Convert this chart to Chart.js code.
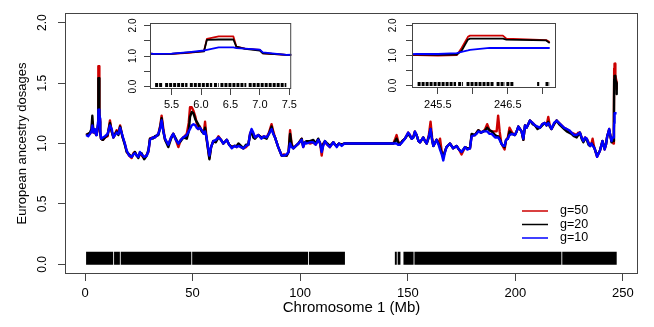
<!DOCTYPE html>
<html>
<head>
<meta charset="utf-8">
<script src="https://cdn.jsdelivr.net/npm/chart.js@4.4.0/dist/chart.umd.min.js"></script>
<style>
  html, body { margin: 0; padding: 0; background: #fff; }
  #wrap { position: relative; width: 654px; height: 327px; }
  #wrap canvas { position: absolute; }
</style>
</head>
<body>
<div id="wrap">
  <canvas id="main" width="654" height="327" style="left:0;top:0"></canvas>
  <canvas id="inset1" width="190" height="102" style="left:110px;top:13px"></canvas>
  <canvas id="inset2" width="182" height="102" style="left:380px;top:13px"></canvas>
</div>
<script>
// chromosome 1 positions (Mb)
const positions = [
  0.5, 1.5, 2.3, 3.0, 3.4, 3.9, 4.6, 5.2, 5.5, 5.8,
  6.05, 6.1, 6.3, 6.55, 6.6, 6.75, 7.0, 7.05, 7.45, 8.3,
  9.3, 10.5, 11.6, 12.4, 13.2, 14.7, 15.5, 16.3, 17.5, 18.5,
  19.4, 20.5, 21.7, 22.5, 23.2, 24.0, 24.8, 25.5, 26.3, 27.5,
  28.7, 29.5, 30.2, 31.5, 32.5, 34.1, 35.0, 35.6, 36.4, 37.2,
  38.7, 40.0, 41.0, 42.2, 43.4, 44.5, 45.7, 47.3, 48.2, 48.8,
  49.6, 50.4, 51.3, 51.9, 52.6, 53.4, 54.3, 55.2, 55.8, 56.5,
  57.8, 58.6, 59.6, 60.8, 62.0, 63.2, 64.3, 65.9, 67.0, 68.2,
  69.5, 70.5, 71.3, 72.5, 73.6, 74.8, 75.9, 76.7, 77.4, 78.2,
  79.0, 80.5, 82.0, 83.2, 84.4, 85.5, 86.7, 87.5, 88.3, 89.8,
  91.4, 92.5, 93.7, 94.6, 95.3, 96.0, 96.8, 98.0, 99.2, 100.7,
  101.4, 102.2, 103.0, 104.5, 106.1, 107.2, 108.4, 109.3, 110.0, 110.7,
  111.5, 112.6, 113.8, 115.4, 116.2, 117.0, 118.0, 119.3, 120.5, 143.3,
  144.2, 144.8, 145.5, 146.3, 147.4, 148.7, 150.2, 151.0, 151.8, 152.6,
  153.3, 154.1, 155.0, 155.7, 157.2, 158.0, 158.8, 159.8, 160.6, 161.3,
  161.9, 163.4, 164.3, 165.0, 165.8, 166.5, 167.2, 168.0, 169.6, 171.1,
  172.7, 173.8, 175.0, 176.6, 177.6, 178.9, 179.7, 181.2, 182.0, 182.8,
  184.0, 185.1, 186.0, 186.9, 188.0, 189.0, 190.6, 191.3, 192.0, 192.7,
  193.5, 194.4, 195.0, 195.7, 196.5, 197.3, 198.5, 199.8, 200.6, 201.4,
  202.1, 202.9, 203.7, 204.5, 205.2, 206.0, 206.8, 208.0, 209.1, 210.3,
  211.4, 212.5, 213.7, 214.5, 215.3, 216.0, 216.8, 218.0, 219.2, 220.3,
  221.5, 222.7, 223.9, 225.0, 226.1, 227.3, 228.5, 229.2, 230.0, 230.8,
  231.6, 232.4, 233.2, 234.0, 234.7, 235.4, 235.9, 236.5, 237.0, 238.0,
  239.3, 240.5, 241.5, 242.1, 242.7, 243.6, 244.2, 244.7, 245.2, 245.5,
  245.77, 245.84, 245.93, 245.96, 246.24, 246.43, 246.48, 247.05, 247.1
];
const g50 = [
  1.07, 1.08, 1.08, 1.10, 1.18, 1.09, 1.10, 1.07, 1.07, 1.10,
  1.16, 1.56, 1.64, 1.64, 1.31, 1.24, 1.20, 1.09, 1.04, 1.03,
  1.05, 1.06, 1.19, 1.10, 1.05, 1.11, 1.08, 1.15, 1.05, 1.00,
  0.93, 0.90, 0.88, 0.92, 0.93, 0.90, 0.89, 0.92, 0.90, 0.88,
  0.91, 0.93, 1.04, 1.05, 1.05, 1.08, 1.15, 1.23, 1.12, 1.03,
  0.99, 1.05, 1.08, 1.03, 0.97, 1.03, 1.05, 1.08, 1.17, 1.30,
  1.30, 1.27, 1.22, 1.17, 1.12, 1.14, 1.10, 1.09, 1.18, 1.04,
  0.88, 0.97, 1.02, 1.02, 1.06, 1.03, 1.00, 1.03, 0.99, 0.97,
  0.98, 0.97, 0.99, 0.97, 0.96, 0.97, 0.99, 1.08, 1.11, 1.08,
  1.05, 1.07, 1.05, 1.06, 1.05, 1.09, 1.16, 1.10, 1.05, 0.97,
  0.90, 0.91, 0.90, 0.93, 1.11, 1.00, 0.96, 0.98, 1.00, 1.04,
  0.97, 1.01, 1.01, 1.00, 1.01, 0.99, 1.03, 1.00, 0.90, 1.00,
  1.01, 0.99, 0.97, 1.01, 0.99, 0.98, 1.00, 0.99, 1.00, 1.00,
  1.04, 1.07, 1.02, 0.99, 1.02, 1.04, 1.09, 1.07, 1.04, 1.06,
  1.10, 1.07, 1.02, 1.01, 1.05, 1.02, 1.00, 1.07, 1.18, 1.05,
  0.98, 1.03, 1.00, 1.04, 0.93, 0.89, 0.93, 0.97, 1.00, 0.96,
  0.98, 0.95, 0.91, 0.97, 0.96, 0.96, 1.07, 1.07, 1.09, 1.11,
  1.09, 1.10, 1.12, 1.16, 1.11, 1.10, 1.10, 1.10, 1.23, 1.10,
  1.00, 0.97, 0.95, 1.03, 1.05, 1.13, 1.09, 1.07, 1.10, 1.14,
  1.12, 1.10, 1.03, 1.15, 1.13, 1.16, 1.19, 1.17, 1.15, 1.13,
  1.13, 1.16, 1.17, 1.15, 1.22, 1.15, 1.12, 1.16, 1.19, 1.17,
  1.15, 1.13, 1.12, 1.10, 1.09, 1.08, 1.07, 1.09, 1.09, 1.05,
  1.02, 1.05, 1.04, 1.01, 0.98, 1.00, 1.04, 0.98, 0.95, 0.89,
  0.94, 1.02, 0.95, 0.99, 1.06, 1.12, 1.06, 1.02, 1.01, 1.00,
  1.01, 1.25, 1.62, 1.66, 1.66, 1.66, 1.56, 1.51, 1.45
];
const g20 = [
  1.07, 1.08, 1.09, 1.12, 1.23, 1.10, 1.11, 1.07, 1.07, 1.12,
  1.15, 1.53, 1.54, 1.54, 1.31, 1.23, 1.18, 1.09, 1.04, 1.03,
  1.05, 1.07, 1.17, 1.10, 1.05, 1.10, 1.07, 1.14, 1.05, 0.99,
  0.93, 0.91, 0.89, 0.91, 0.93, 0.90, 0.88, 0.92, 0.92, 0.87,
  0.90, 0.95, 1.04, 1.04, 1.06, 1.07, 1.14, 1.21, 1.10, 1.03,
  0.97, 1.04, 1.08, 1.04, 1.00, 1.02, 1.05, 1.04, 1.10, 1.22,
  1.26, 1.25, 1.20, 1.18, 1.16, 1.13, 1.10, 1.08, 1.13, 1.04,
  0.87, 0.97, 1.02, 1.01, 1.05, 1.03, 1.00, 1.03, 0.99, 0.97,
  0.98, 0.98, 1.00, 0.98, 0.96, 0.99, 0.99, 1.07, 1.10, 1.05,
  1.04, 1.07, 1.05, 1.05, 1.04, 1.08, 1.14, 1.08, 1.05, 0.97,
  0.90, 0.90, 0.90, 0.93, 1.08, 0.99, 0.96, 0.98, 1.00, 1.04,
  0.98, 1.01, 1.02, 1.02, 1.03, 1.00, 1.04, 1.00, 0.94, 0.99,
  1.02, 1.00, 0.98, 1.01, 0.99, 0.98, 1.00, 0.99, 1.00, 1.00,
  1.02, 1.04, 1.01, 0.99, 1.02, 1.04, 1.08, 1.06, 1.04, 1.05,
  1.09, 1.07, 1.02, 1.01, 1.05, 1.02, 1.00, 1.05, 1.12, 1.03,
  0.98, 1.03, 1.00, 0.97, 0.92, 0.89, 0.93, 0.97, 1.00, 0.96,
  0.98, 0.95, 0.93, 0.97, 0.96, 0.96, 1.08, 1.07, 1.09, 1.11,
  1.09, 1.10, 1.11, 1.13, 1.11, 1.10, 1.07, 1.06, 1.06, 1.04,
  1.00, 0.98, 0.97, 1.03, 1.04, 1.10, 1.08, 1.07, 1.10, 1.14,
  1.12, 1.10, 1.03, 1.15, 1.13, 1.16, 1.19, 1.16, 1.15, 1.12,
  1.13, 1.15, 1.17, 1.15, 1.18, 1.14, 1.12, 1.16, 1.19, 1.16,
  1.14, 1.12, 1.10, 1.09, 1.08, 1.06, 1.05, 1.07, 1.09, 1.04,
  1.01, 1.04, 1.03, 0.99, 0.98, 1.00, 0.99, 0.97, 0.95, 0.90,
  0.94, 1.02, 0.96, 0.99, 1.06, 1.11, 1.06, 1.01, 1.03, 1.02,
  1.03, 1.16, 1.53, 1.56, 1.56, 1.56, 1.53, 1.50, 1.41
];
const g10 = [
  1.07, 1.06, 1.08, 1.10, 1.15, 1.09, 1.12, 1.07, 1.08, 1.13,
  1.18, 1.20, 1.28, 1.28, 1.26, 1.24, 1.21, 1.12, 1.04, 1.05,
  1.06, 1.08, 1.15, 1.12, 1.05, 1.09, 1.08, 1.13, 1.06, 1.00,
  0.94, 0.90, 0.89, 0.91, 0.92, 0.90, 0.89, 0.93, 0.91, 0.89,
  0.90, 0.94, 1.03, 1.05, 1.05, 1.08, 1.13, 1.19, 1.10, 1.04,
  0.99, 1.05, 1.08, 1.03, 1.00, 1.03, 1.05, 1.07, 1.10, 1.12,
  1.15, 1.16, 1.15, 1.13, 1.12, 1.13, 1.11, 1.08, 1.10, 1.05,
  0.90, 0.97, 1.02, 1.03, 1.05, 1.03, 1.00, 1.03, 0.99, 0.96,
  0.98, 0.97, 0.98, 0.97, 0.96, 0.98, 0.99, 1.08, 1.12, 1.09,
  1.05, 1.07, 1.04, 1.06, 1.05, 1.08, 1.12, 1.08, 1.05, 0.97,
  0.90, 0.90, 0.91, 0.93, 1.00, 0.97, 0.96, 0.98, 1.00, 1.03,
  0.97, 1.01, 1.00, 1.01, 1.01, 0.99, 1.03, 1.00, 0.93, 0.98,
  1.02, 0.99, 0.97, 1.01, 0.99, 0.97, 1.00, 0.98, 1.00, 1.00,
  1.00, 1.00, 0.99, 0.99, 1.01, 1.04, 1.09, 1.07, 1.04, 1.05,
  1.10, 1.07, 1.02, 1.01, 1.05, 1.02, 1.00, 1.06, 1.12, 1.03,
  0.98, 1.03, 0.99, 0.95, 0.91, 0.86, 0.92, 0.97, 1.00, 0.96,
  0.98, 0.95, 0.93, 0.97, 0.95, 0.96, 1.06, 1.07, 1.08, 1.10,
  1.09, 1.10, 1.10, 1.10, 1.08, 1.08, 1.05, 1.05, 1.05, 1.03,
  1.00, 0.98, 0.98, 1.03, 1.04, 1.07, 1.08, 1.07, 1.10, 1.14,
  1.12, 1.10, 1.04, 1.15, 1.13, 1.16, 1.19, 1.17, 1.15, 1.14,
  1.13, 1.16, 1.17, 1.15, 1.17, 1.15, 1.12, 1.17, 1.19, 1.17,
  1.15, 1.13, 1.12, 1.11, 1.09, 1.07, 1.07, 1.08, 1.09, 1.05,
  1.02, 1.05, 1.04, 1.00, 0.98, 1.00, 0.98, 0.97, 0.95, 0.89,
  0.94, 1.02, 0.95, 0.99, 1.06, 1.12, 1.06, 1.02, 1.05, 1.05,
  1.08, 1.12, 1.17, 1.19, 1.25, 1.25, 1.25, 1.25, 1.25
];
const seriesLabels = ["g=50", "g=20", "g=10"];
const seriesColors = ["#cc0000", "#000000", "#0000ff"];

// marker positions, grouped into runs [start, end] (Mb)
const rugMain = [[0.5, 13.1], [13.5, 16.2], [16.6, 49.4], [49.8, 103.7], [104.1, 120.8],
  [144.0, 144.9], [145.3, 146.6], [148.0, 152.7], [153.1, 221.4], [221.8, 247.1]];
const rugInset1 = [[5.22, 5.34], [5.39, 5.77], [5.81, 6.19], [6.22, 6.30], [6.33, 6.77], [6.81, 7.45]];
const rugInset2 = [[245.21, 245.76], [245.79, 245.86], [245.91, 246.31], [246.34, 246.46],
  [246.48, 246.58], [246.92, 246.95], [247.04, 247.1]];

const xTicks = [0, 50, 100, 150, 200, 250];
const xTickLabels = ["0", "50", "100", "150", "200", "250"];
const yTicks = [0, 0.5, 1, 1.5, 2];
const yTickLabels = ["0.0", "0.5", "1.0", "1.5", "2.0"];
const insetYLabels = ["0.0", "", "1.0", "", "2.0"];
const inset1Ticks = [5.5, 6, 6.5, 7, 7.5];
const inset1Labels = ["5.5", "6.0", "6.5", "7.0", "7.5"];
const inset2Ticks = [245.5, 246, 246.5, 247];
const inset2Labels = ["245.5", "", "246.5", ""];

const FONT = '"Liberation Sans", Arial, Helvetica, sans-serif';
const axisColor = '#444';
Chart.defaults.font.family = FONT;
Chart.defaults.color = '#000';

// box round the plot, rotated y labels (R style) and the legend
const frame = {
  id: 'frame',
  afterDraw(chart, args, opts) {
    const { ctx, chartArea: a } = chart;
    const y = chart.scales.y;
    ctx.save();
    ctx.strokeStyle = axisColor;
    ctx.lineWidth = 1;
    ctx.strokeRect(a.left + 0.5, a.top + 0.5, a.right - a.left - 1, a.bottom - a.top - 1);

    ctx.fillStyle = '#000';
    ctx.font = opts.font;
    ctx.textAlign = 'center';
    ctx.textBaseline = 'alphabetic';
    y.ticks.forEach((t, i) => {
      const txt = opts.labels[i];
      if (!txt) return;
      ctx.save();
      ctx.translate(a.left - opts.gap, y.getPixelForValue(t.value));
      ctx.rotate(-Math.PI / 2);
      ctx.fillText(txt, 0, 0);
      ctx.restore();
    });

    const L = opts.legend;
    if (L) {
      ctx.font = L.font;
      ctx.textAlign = 'left';
      ctx.textBaseline = 'middle';
      chart.data.datasets.filter(d => d.label).forEach((d, i) => {
        const yy = L.y + i * L.step;
        ctx.strokeStyle = d.borderColor;
        ctx.lineWidth = 1.5;
        ctx.beginPath();
        ctx.moveTo(L.x, yy);
        ctx.lineTo(L.x + L.len, yy);
        ctx.stroke();
        ctx.fillText(d.label, L.x + L.len + L.pad, yy);
      });
    }
    ctx.restore();
  }
};

function lineSets(width) {
  return [g50, g20, g10].map((vals, i) => ({
    label: seriesLabels[i],
    data: positions.map((x, k) => ({ x: x, y: vals[k] })),
    borderColor: seriesColors[i],
    borderWidth: width,
    borderJoinStyle: 'round',
    pointRadius: 0,
    tension: 0,
    order: 3 - i
  }));
}

function rugSet(blocks, width, dash) {
  const pts = [];
  blocks.forEach(([s, e]) => {
    pts.push({ x: s, y: 0.05 }, { x: e, y: 0.05 }, { x: e, y: null });
  });
  return {
    data: pts,
    borderColor: '#000',
    borderWidth: width,
    borderCapStyle: 'butt',
    borderDash: dash,
    pointRadius: 0,
    spanGaps: false,
    order: 10
  };
}

function makeChart(id, c) {
  return new Chart(document.getElementById(id), {
    type: 'line',
    data: { datasets: [...lineSets(c.lineWidth), rugSet(c.rug, c.rugWidth, c.rugDash)] },
    options: {
      responsive: false,
      animation: false,
      events: [],
      layout: { padding: c.padding },
      plugins: {
        legend: { display: false },
        tooltip: { enabled: false },
        frame: { font: c.yFont, labels: c.yLabels, gap: c.yGap, legend: c.legend }
      },
      scales: {
        x: {
          type: 'linear',
          min: c.xMin, max: c.xMax,
          afterBuildTicks: s => { s.ticks = c.xTicks.map(v => ({ value: v })); },
          afterFit: s => { s.height = c.xHeight; },
          ticks: { callback: (v, i) => c.xLabels[i], font: { size: c.xFontSize }, padding: c.xPad,
                   autoSkip: false, maxRotation: 0, color: '#000' },
          grid: { drawOnChartArea: false, tickLength: c.tick, color: axisColor, tickColor: axisColor },
          border: { display: false },
          title: c.xTitle ? { display: true, text: c.xTitle, font: { size: 15 }, color: '#000',
                              padding: { top: 0, bottom: 10 } } : { display: false }
        },
        y: {
          min: -0.08, max: 2.08,
          afterBuildTicks: s => { s.ticks = yTicks.map(v => ({ value: v })); },
          afterFit: s => { s.width = c.yWidth; },
          ticks: { display: false },
          grid: { drawOnChartArea: false, tickLength: c.tick, color: axisColor, tickColor: axisColor },
          border: { display: false },
          title: c.yTitle ? { display: true, text: c.yTitle, font: { size: 13 }, color: '#000',
                              padding: { top: 15, bottom: 0 } } : { display: false }
        }
      }
    },
    plugins: [frame]
  });
}

makeChart('main', {
  lineWidth: 2.4, rug: rugMain, rugWidth: 13, rugDash: [],
  padding: { left: 0, top: 13, right: 16, bottom: 0 },
  xMin: -9.3, xMax: 257, xTicks: xTicks, xLabels: xTickLabels, xFontSize: 13, xPad: 5, xHeight: 53,
  yWidth: 65, tick: 7, yFont: '12px ' + FONT, yLabels: yTickLabels, yGap: 19,
  xTitle: 'Chromosome 1 (Mb)', yTitle: 'European ancestry dosages',
  legend: { x: 522, y: 211, step: 13.5, len: 26, pad: 12, font: '12.5px ' + FONT }
});

makeChart('inset1', {
  lineWidth: 1.8, rug: rugInset1, rugWidth: 4, rugDash: [3, 1],
  padding: { left: 0, top: 10, right: 6, bottom: 0 },
  xMin: 5.133, xMax: 7.533, xTicks: inset1Ticks, xLabels: inset1Labels, xFontSize: 11, xPad: 3, xHeight: 26,
  yWidth: 40, tick: 6, yFont: '10px ' + FONT, yLabels: insetYLabels, yGap: 14
});

makeChart('inset2', {
  lineWidth: 1.8, rug: rugInset2, rugWidth: 4, rugDash: [3, 1],
  padding: { left: 0, top: 10, right: 6, bottom: 0 },
  xMin: 245.13, xMax: 247.19, xTicks: inset2Ticks, xLabels: inset2Labels, xFontSize: 11, xPad: 4, xHeight: 27,
  yWidth: 32, tick: 6, yFont: '10px ' + FONT, yLabels: insetYLabels, yGap: 16
});
</script>
</body>
</html>
